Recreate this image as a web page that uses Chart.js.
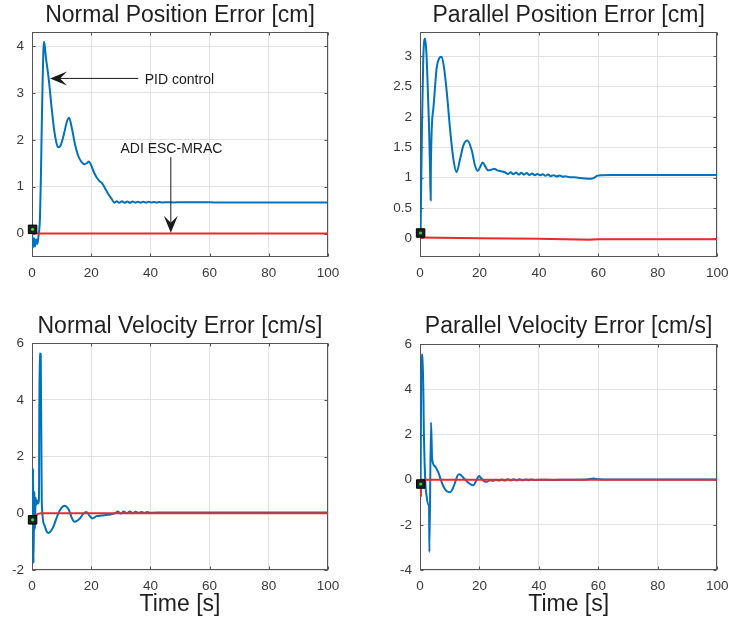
<!DOCTYPE html>
<html><head><meta charset="utf-8">
<script src="https://cdn.jsdelivr.net/npm/chart.js@4.4.1/dist/chart.umd.min.js"></script>
<style>
html,body{margin:0;padding:0;background:#fff;width:729px;height:626px;overflow:hidden;}
canvas{position:absolute;}
</style></head><body>
<canvas id="c1" width="340" height="300" style="left:0px;top:0px;width:340px;height:300px"></canvas>
<canvas id="c2" width="359" height="300" style="left:370px;top:0px;width:359px;height:300px"></canvas>
<canvas id="c3" width="340" height="315" style="left:0px;top:311px;width:340px;height:315px"></canvas>
<canvas id="c4" width="359" height="315" style="left:370px;top:311px;width:359px;height:315px"></canvas>
<script>
// ---------------- data ----------------
const xTicks = [0, 20, 40, 60, 80, 100];
const npYTicks = [0, 1, 2, 3, 4];
const ppYTicks = [0, 0.5, 1, 1.5, 2, 2.5, 3];
const nvYTicks = [-2, 0, 2, 4, 6];
const pvYTicks = [-4, -2, 0, 2, 4, 6];

// Normal Position Error [cm]
const npT   = [0,0.3,0.7,1.0,1.4,1.8,2.2,2.4,2.7,3.0,3.3,3.6,3.85,4.05,4.3,4.7,5.7,6.6,7.5,8.2,8.9,9.5,10.2,11.0,11.7,12.5,13.4,14.5,15.6,16.7,17.7,18.5,19.2,19.9,20.7,21.8,22.8,23.7,24.8,25.8,26.8,27.8,28.6,29.5,30.4,31.3,32.2,33.1,34.0,34.9,35.8,36.7,37.6,38.5,39.4,40.3,41.2,42.1,43.0,44,46,48,50,54,58,62,70,80,90,100];
const npPID = [0.05,-0.3,-0.1,-0.28,-0.12,-0.22,-0.05,0.05,0.35,1.2,2.3,3.3,3.9,4.09,4.0,3.76,3.27,2.7,2.2,1.95,1.84,1.86,1.98,2.18,2.37,2.47,2.27,1.91,1.66,1.53,1.48,1.5,1.54,1.47,1.34,1.2,1.12,1.07,0.95,0.84,0.75,0.66,0.69,0.655,0.69,0.655,0.685,0.655,0.685,0.66,0.68,0.66,0.68,0.66,0.678,0.662,0.675,0.663,0.673,0.665,0.67,0.665,0.668,0.666,0.667,0.664,0.664,0.664,0.664,0.664];
const npADIt = [0.2, 100];
const npADI  = [0, 0];

// Parallel Position Error [cm]
const ppT   = [0.2,0.67,1.1,1.7,2.1,2.46,3.03,3.35,3.6,3.65,4.5,5.6,6.4,7.3,8.1,9.0,10.3,11.4,12.3,13.5,14.6,15.9,17.4,18.5,19.4,20.2,21.1,22.0,22.8,23.9,25.0,26.0,26.9,27.8,28.7,29.6,30.5,31.4,32.3,33.2,34.1,35.0,35.9,36.8,37.7,38.6,39.5,40.4,41.3,42.2,43.1,44.0,45.0,46.0,47.0,48.0,49.0,50.0,52,54,56,57.5,58.5,59.5,61,65,70,80,90,100];
const ppPID = [0.1,1.86,2.96,3.29,3.1,2.69,1.86,1.2,0.63,1.15,2.14,2.8,2.96,2.99,2.8,2.41,1.70,1.25,1.09,1.31,1.53,1.61,1.45,1.2,1.11,1.17,1.25,1.18,1.12,1.13,1.145,1.12,1.11,1.1,1.085,1.06,1.09,1.055,1.085,1.05,1.08,1.05,1.075,1.045,1.07,1.04,1.06,1.04,1.055,1.03,1.05,1.025,1.04,1.02,1.035,1.015,1.025,1.01,1.005,0.995,0.985,0.98,0.995,1.03,1.04,1.042,1.043,1.043,1.043,1.043];
const ppADIt = [0.2, 20, 40, 57, 60, 100];
const ppADI  = [0.015, 0.005, -0.005, -0.02, -0.012, -0.012];

// Normal Velocity Error [cm/s]
const nvT   = [0.2,0.4,0.5,0.7,0.85,1.0,1.2,1.5,1.8,2.1,2.35,2.55,2.95,3.3,4.2,5.0,5.6,6.4,7.2,8.0,8.9,10.0,11.1,11.8,12.5,13.4,14.3,15.2,16.2,17.3,18.4,19.4,20.4,21.8,23.5,25.0,26.5,28.0,29.0,30.0,31.0,32.0,33.0,34.0,35.0,36.0,37.0,38.0,39,40,45,50,100];
const nvPID = [-0.2,1.57,-1.76,0.2,0.75,-0.55,0.55,0.3,0.45,0.35,0.5,5.64,5.62,0.4,-0.42,-0.65,-0.69,-0.62,-0.48,-0.25,0,0.2,0.27,0.22,0.11,-0.15,-0.30,-0.27,-0.18,-0.02,0.05,-0.08,-0.18,-0.1,-0.08,-0.06,-0.04,0.0,0.06,-0.01,0.06,0.0,0.06,0.005,0.055,0.01,0.05,0.015,0.045,0.02,0.03,0.025,0.025];
const nvADIt = [0.3, 1.0, 2.0, 3.0, 100];
const nvADI  = [-0.25, -0.1, -0.02, 0, 0];

// Parallel Velocity Error [cm/s]
const pvT   = [0.2,0.5,0.9,1.35,1.8,2.24,2.8,3.05,3.15,3.7,4.1,5.0,6.2,7.0,7.8,9.0,10.2,11.0,11.8,12.5,13.1,13.8,14.6,16.2,17.9,19.1,19.8,20.5,21.5,22.5,23.5,24.5,25.5,26.5,27.5,28.5,29.5,30.5,31.5,32.5,33.5,34.5,35.5,36.5,37.5,38.5,40,45,50,56,58.5,60,65,100];
const pvPID = [-0.2,5.54,5.54,1.8,-0.13,-0.75,-1.1,-1.18,-3.2,2.54,0.9,0.6,0.31,0.0,-0.28,-0.51,-0.55,-0.4,-0.13,0.15,0.24,0.2,0.09,-0.13,-0.25,0.01,0.16,0.08,-0.06,-0.09,-0.02,-0.05,0.0,-0.04,0.01,-0.04,0.02,-0.03,0.02,-0.03,0.02,-0.025,0.015,-0.02,0.015,-0.015,0.0,-0.01,0.0,0.01,0.05,0.02,0.01,0.01];
const pvADIt = [0.3, 0.35, 100];
const pvADI  = [-0.75, 0, 0];

// initial-condition markers [x, y]
const npMark = [0.2, 0.09];
const ppMark = [0.2, 0.09];
const nvMark = [0.2, -0.23];
const pvMark = [0.25, -0.19];

// annotation anchors (data coords)
const pidArrow = {x0: 35.9, y0: 3.31, x1: 6.1, y1: 3.31, tx: 38.1, ty: 3.28, text: 'PID control'};
const adiArrow = {x0: 46.9, y0: 1.63, x1: 46.9, y1: 0.02, tx: 47.1, ty: 1.81, text: 'ADI ESC-MRAC'};

// ---------------- styling / helpers ----------------
const FONT = '"Liberation Sans", Arial, Helvetica, sans-serif';
const BLUE = '#0072bd';
const RED = '#ea2b2b';
const pts = (xs, ys) => xs.map((x, i) => ({x: x, y: ys[i]}));

const boxPlugin = {
  id: 'matlabBox',
  beforeDatasetsDraw(chart) {
    const {ctx, chartArea: a, scales: {x, y}} = chart;
    const L = Math.round(a.left) + 0.5, R = Math.round(a.right) - 0.5;
    const T = Math.round(a.top) + 0.5, B = Math.round(a.bottom) - 0.5;
    ctx.save();
    ctx.strokeStyle = '#555';
    ctx.lineWidth = 1;
    ctx.beginPath();
    x.ticks.forEach(t => {
      const p = Math.round(x.getPixelForValue(t.value)) + 0.5;
      ctx.moveTo(p, B); ctx.lineTo(p, B - 3);
      ctx.moveTo(p, T); ctx.lineTo(p, T + 3);
    });
    y.ticks.forEach(t => {
      const p = Math.round(y.getPixelForValue(t.value)) + 0.5;
      ctx.moveTo(L, p); ctx.lineTo(L + 3, p);
      ctx.moveTo(R, p); ctx.lineTo(R - 3, p);
    });
    ctx.stroke();
    ctx.strokeRect(L, T, R - L, B - T);
    ctx.restore();
  }
};

function drawArrow(ctx, x0, y0, x1, y1) {
  const dx = x1 - x0, dy = y1 - y0, len = Math.hypot(dx, dy);
  const ux = dx / len, uy = dy / len, px = -uy, py = ux;
  const HL = 17, NL = 10, HW = 7;
  ctx.beginPath();
  ctx.moveTo(x0, y0);
  ctx.lineTo(x1 - ux * NL, y1 - uy * NL);
  ctx.stroke();
  ctx.beginPath();
  ctx.moveTo(x1, y1);
  ctx.lineTo(x1 - ux * HL + px * HW, y1 - uy * HL + py * HW);
  ctx.lineTo(x1 - ux * NL, y1 - uy * NL);
  ctx.lineTo(x1 - ux * HL - px * HW, y1 - uy * HL - py * HW);
  ctx.closePath();
  ctx.fill();
}

const annPlugin = {
  id: 'annotations',
  afterDatasetsDraw(chart) {
    const {ctx, scales: {x, y}} = chart;
    ctx.save();
    ctx.fillStyle = '#1a1a1a';
    ctx.strokeStyle = '#1a1a1a';
    ctx.lineWidth = 1;
    [pidArrow, adiArrow].forEach(a => {
      drawArrow(ctx, x.getPixelForValue(a.x0), y.getPixelForValue(a.y0),
                     x.getPixelForValue(a.x1), y.getPixelForValue(a.y1));
    });
    ctx.font = '14px ' + FONT;
    ctx.textBaseline = 'middle';
    ctx.textAlign = 'left';
    ctx.fillText(pidArrow.text, x.getPixelForValue(pidArrow.tx), y.getPixelForValue(pidArrow.ty));
    ctx.textAlign = 'center';
    ctx.fillText(adiArrow.text, x.getPixelForValue(adiArrow.tx), y.getPixelForValue(adiArrow.ty));
    ctx.restore();
  }
};

function makeChart(id, c) {
  const datasets = [
    {data: [{x: c.mark[0], y: c.mark[1]}], showLine: false, pointStyle: 'circle', pointRadius: 1.6,
     pointBackgroundColor: '#3ad63a', pointBorderWidth: 0, clip: false},
    {data: [{x: c.mark[0], y: c.mark[1]}], showLine: false, pointStyle: 'rect', pointRadius: 6,
     pointBackgroundColor: '#1e1e1e', pointBorderColor: '#000', pointBorderWidth: 1, clip: false},
    {data: pts(c.adiT, c.adi), borderColor: RED, borderWidth: 2, pointRadius: 0, tension: 0, fill: false},
    {data: pts(c.pidT, c.pid), borderColor: BLUE, borderWidth: 2, pointRadius: 0,
     cubicInterpolationMode: 'monotone', fill: false}
  ];
  return new Chart(document.getElementById(id), {
    type: 'line',
    data: {datasets: datasets},
    options: {
      responsive: false,
      animation: false,
      devicePixelRatio: 1,
      events: [],
      layout: {padding: {left: 0, right: c.padRight, top: 0, bottom: 0}},
      plugins: {
        legend: {display: false},
        tooltip: {enabled: false},
        title: {
          display: true, text: c.title, color: '#1f1f1f', fullSize: false,
          font: {family: FONT, size: 23, weight: 'normal', lineHeight: 1.2},
          padding: {top: c.tTop, bottom: c.tBottom}
        }
      },
      scales: {
        x: {
          type: 'linear', min: 0, max: 100,
          afterBuildTicks: s => { s.ticks = xTicks.map(v => ({value: v})); },
          afterFit: s => { s.height = c.xHeight; s.paddingLeft = 0; s.paddingRight = 0; },
          ticks: {padding: 8, color: '#3a3a3a', font: {family: FONT, size: 13.5}, maxRotation: 0, autoSkip: false,
                  callback: v => String(v)},
          grid: {color: '#e2e2e2', lineWidth: 1, drawTicks: false},
          border: {display: false},
          title: c.xlabel ? {display: true, text: c.xlabel, color: '#1f1f1f',
                  font: {family: FONT, size: 23, weight: 'normal', lineHeight: 1.2},
                  padding: {top: 0, bottom: 7.2}} : {display: false}
        },
        y: {
          type: 'linear', min: c.yMin, max: c.yMax,
          afterBuildTicks: s => { s.ticks = c.yTicks.map(v => ({value: v})); },
          afterFit: s => { s.width = c.yWidth; s.paddingTop = 0; s.paddingBottom = 0; },
          ticks: {padding: 8, color: '#3a3a3a', font: {family: FONT, size: 13.5}, autoSkip: false,
                  callback: v => String(v)},
          grid: {color: '#e2e2e2', lineWidth: 1, drawTicks: false},
          border: {display: false}
        }
      }
    },
    plugins: c.annotate ? [boxPlugin, annPlugin] : [boxPlugin]
  });
}

makeChart('c1', {title: 'Normal Position Error [cm]', pidT: npT, pid: npPID, adiT: npADIt, adi: npADI,
  mark: npMark, yMin: -0.5, yMax: 4.3, yTicks: npYTicks, yWidth: 32, padRight: 12,
  tTop: 1.5, tBottom: 2.9, xHeight: 43, annotate: true});
makeChart('c2', {title: 'Parallel Position Error [cm]', pidT: ppT, pid: ppPID, adiT: ppADIt, adi: ppADI,
  mark: ppMark, yMin: -0.3, yMax: 3.4, yTicks: ppYTicks, yWidth: 50, padRight: 11.7,
  tTop: 1.5, tBottom: 2.6, xHeight: 43.3});
makeChart('c3', {title: 'Normal Velocity Error [cm/s]', pidT: nvT, pid: nvPID, adiT: nvADIt, adi: nvADI,
  mark: nvMark, yMin: -2, yMax: 6, yTicks: nvYTicks, yWidth: 32, padRight: 12,
  tTop: 2.2, tBottom: 2.5, xHeight: 56, xlabel: 'Time [s]'});
makeChart('c4', {title: 'Parallel Velocity Error [cm/s]', pidT: pvT, pid: pvPID, adiT: pvADIt, adi: pvADI,
  mark: pvMark, yMin: -4, yMax: 6, yTicks: pvYTicks, yWidth: 50, padRight: 11.7,
  tTop: 2.2, tBottom: 3.5, xHeight: 56, xlabel: 'Time [s]'});
</script>
</body></html>
